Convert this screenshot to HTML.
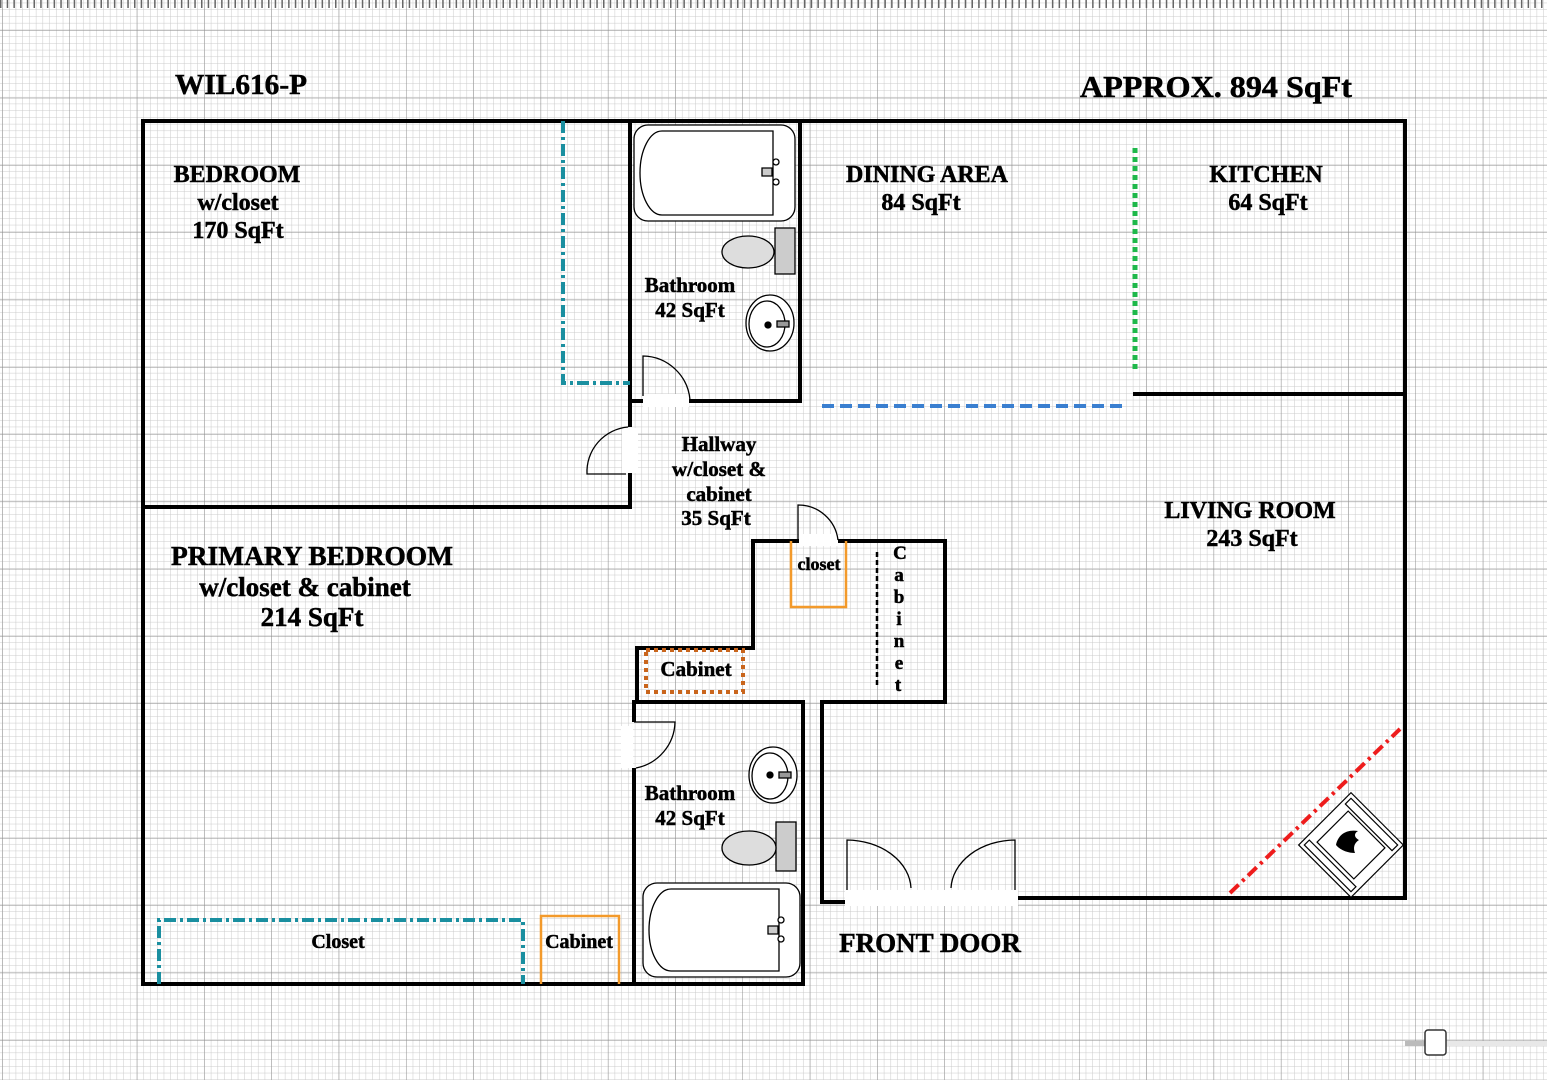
<!DOCTYPE html>
<html><head><meta charset="utf-8"><style>
html,body{margin:0;padding:0;background:#fff;}
svg{display:block;}
text{font-family:"Liberation Serif",serif;font-weight:bold;fill:#000;stroke:#000;stroke-width:0.5;}
</style></head><body>
<svg width="1547" height="1080" viewBox="0 0 1547 1080" xmlns="http://www.w3.org/2000/svg">
<defs>
<pattern id="minor" x="2.7" y="3.2" width="6.73" height="6.73" patternUnits="userSpaceOnUse">
<path d="M6.73 0V6.73M0 6.73H6.73" stroke="#cacaca" stroke-width="1" fill="none"/>
</pattern>
<pattern id="major" x="2.7" y="-36.3" width="67.3" height="67.3" patternUnits="userSpaceOnUse">
<path d="M67.3 0V67.3M0 67.3H67.3" stroke="#8e8e8e" stroke-width="1" fill="none"/>
</pattern>
</defs>
<rect width="1547" height="1080" fill="#fff"/>
<rect width="1547" height="1080" fill="url(#minor)"/>
<rect width="1547" height="1080" fill="url(#major)"/>
<line x1="0" y1="4" x2="1547" y2="4" stroke="#666" stroke-width="8" stroke-dasharray="1.5 5.2"/>

<g stroke="#000" stroke-width="4" fill="none" stroke-linecap="square">
<path d="M143 121H1405V898"/>
<path d="M143 121V984H800"/>
<path d="M1405 898H1018"/>
<path d="M845 902H822V702H945V541H839"/>
<path d="M797 541H753V648H637V702"/>
<path d="M634 702H803V984"/>
<path d="M634 702V720M634 770V984"/>
<path d="M630 121V401H642M690 401H800V121"/>
<path d="M630 401V425M630 475V507H143"/>
<path d="M1135 394H1405"/>
</g>
<rect x="845" y="890" width="173" height="16" fill="#fff"/>
<rect x="621" y="726" width="12" height="42" fill="#fff"/>
<rect x="622" y="428" width="16" height="45" fill="#fff"/>
<rect x="643" y="394" width="46" height="13" fill="#fff"/>
<rect x="799" y="534" width="39" height="12" fill="#fff"/>
<g stroke="#000" stroke-width="1.3" fill="none">
<path d="M643 396V356A48 48 0 0 1 690 400"/>
<path d="M628 427A45 45 0 0 0 587 474H626"/>
<path d="M798 540V505A40 40 0 0 1 838 540"/>
<path d="M634 722H675A48 48 0 0 1 636 768"/>
<path d="M847 890V840A65 50 0 0 1 911 888"/>
<path d="M1015 890V840A65 50 0 0 0 951 888"/>
</g>
<path d="M563 121V383H630" stroke="#1a8fa0" stroke-width="4" fill="none" stroke-dasharray="12 4 3 4"/>
<path d="M159 984V920H523V984" stroke="#1a8fa0" stroke-width="4" fill="none" stroke-dasharray="12 4 3 4"/>
<line x1="1135" y1="148" x2="1135" y2="372" stroke="#1eb84a" stroke-width="5" stroke-dasharray="5 4"/>
<line x1="822" y1="406" x2="1125" y2="406" stroke="#3a7fd0" stroke-width="4" stroke-dasharray="12 6"/>
<line x1="1230" y1="893" x2="1400" y2="729" stroke="#ee1c1c" stroke-width="4" stroke-dasharray="12 5 3 5"/>
<line x1="877" y1="552" x2="877" y2="688" stroke="#000" stroke-width="2.5" stroke-dasharray="5 3"/>
<path d="M541 984V916H619V984" stroke="#f39a2b" stroke-width="2.5" fill="none"/>
<path d="M791 541V607H846V541" stroke="#f39a2b" stroke-width="2.5" fill="none"/>
<rect x="646" y="650" width="97" height="42" stroke="#c9651c" stroke-width="4" fill="none" stroke-dasharray="4 4"/>

<g stroke="#000" stroke-width="1.3">
<rect x="634" y="125" width="161" height="96" rx="14" fill="#fff"/>
<path d="M662 131H773V215H662A22 42 0 0 1 662 131Z" fill="#fff"/>
<path d="M762 168h10v8h-10z" fill="#ccc"/>
<circle cx="776" cy="162" r="3" fill="#fff"/><circle cx="776" cy="182" r="3" fill="#fff"/>
<rect x="775" y="228" width="20" height="46" fill="#ccc"/>
<ellipse cx="748" cy="252" rx="26" ry="16" fill="#ddd"/>
<ellipse cx="770" cy="323" rx="24" ry="28" fill="#fff"/>
<ellipse cx="767" cy="324" rx="18" ry="23" fill="#fff"/>
<rect x="777" y="321" width="12" height="6" fill="#999"/>
<circle cx="768" cy="325" r="3" fill="#000"/>
<ellipse cx="773" cy="775" rx="24" ry="28" fill="#fff"/>
<ellipse cx="770" cy="776" rx="18" ry="23" fill="#fff"/>
<rect x="779" y="772" width="12" height="6" fill="#999"/>
<circle cx="770" cy="775" r="3" fill="#000"/>
<rect x="776" y="822" width="20" height="49" fill="#ccc"/>
<ellipse cx="749" cy="848" rx="27" ry="17" fill="#ddd"/>
<rect x="643" y="883" width="157" height="94" rx="14" fill="#fff"/>
<path d="M671 889H779V971H671A22 41 0 0 1 671 889Z" fill="#fff"/>
<path d="M768 926h10v8h-10z" fill="#ccc"/>
<circle cx="781" cy="920" r="3" fill="#fff"/><circle cx="781" cy="939" r="3" fill="#fff"/>
</g>
<g transform="translate(1351 845) rotate(45)" stroke="#000" stroke-width="1.2" fill="#fff">
<rect x="-37" y="-37" width="74" height="74"/>
<rect x="-33" y="-33" width="66" height="8"/>
<rect x="-26" y="-22" width="52" height="44"/>
<rect x="-33" y="26" width="66" height="7"/>
</g>
<path d="M1336 845c2-10 10-16 22-14c-5 3-3 7 1 9c-5 3-6 8-4 13c-6 0-14-2-19-8z" fill="#000"/>

<rect x="1405" y="1041" width="22" height="5" fill="#bbb"/>
<rect x="1446" y="1041" width="101" height="5" fill="#e8e8e8"/>
<rect x="1425" y="1030" width="21" height="25" rx="3" fill="#fff" stroke="#333" stroke-width="1.5"/>

<text x="175" y="94" font-size="29" textLength="132" lengthAdjust="spacingAndGlyphs">WIL616-P</text>
<text x="1080" y="97" font-size="31" textLength="272" lengthAdjust="spacingAndGlyphs">APPROX. 894 SqFt</text>
<g font-size="24" text-anchor="middle">
<text x="237" y="182">BEDROOM</text>
<text x="238" y="210">w/closet</text>
<text x="238" y="238">170 SqFt</text>
<text x="927" y="182">DINING AREA</text>
<text x="921" y="210">84 SqFt</text>
<text x="1266" y="182">KITCHEN</text>
<text x="1268" y="210">64 SqFt</text>
<text x="1250" y="518">LIVING ROOM</text>
<text x="1252" y="546">243 SqFt</text>
</g>
<g font-size="21" text-anchor="middle">
<text x="690" y="292">Bathroom</text>
<text x="690" y="317">42 SqFt</text>
<text x="690" y="800">Bathroom</text>
<text x="690" y="825">42 SqFt</text>
<text x="719" y="451">Hallway</text>
<text x="719" y="476">w/closet &amp;</text>
<text x="719" y="501">cabinet</text>
<text x="716" y="525">35 SqFt</text>
<text x="696" y="676">Cabinet</text>
<text x="338" y="948" font-size="20">Closet</text>
<text x="579" y="948" font-size="20">Cabinet</text>
<text x="819" y="570" font-size="18">closet</text>
</g>
<g font-size="27" text-anchor="middle">
<text x="312" y="565" textLength="282" lengthAdjust="spacingAndGlyphs">PRIMARY BEDROOM</text>
<text x="305" y="596">w/closet &amp; cabinet</text>
<text x="312" y="626">214 SqFt</text>
<text x="930" y="952">FRONT DOOR</text>
</g>
<g font-size="19" text-anchor="middle">
<text x="900" y="559">C</text><text x="899" y="581">a</text><text x="899" y="603">b</text>
<text x="899" y="625">i</text><text x="899" y="647">n</text><text x="899" y="669">e</text><text x="898" y="691">t</text>
</g>
</svg>
</body></html>
